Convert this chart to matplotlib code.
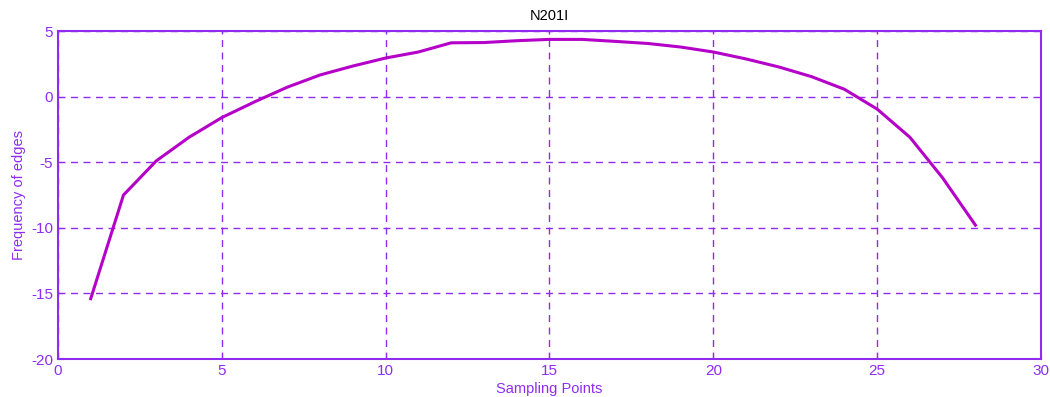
import numpy as np
import matplotlib
matplotlib.use("Agg")
import matplotlib.pyplot as plt

plt.rcParams['font.family'] = ['Liberation Sans', 'DejaVu Sans']
plt.rcParams['axes.unicode_minus'] = False

# values
sampling_points = np.arange(1, 29)
edge_freq = [-15.4, -7.5, -4.9, -3.1, -1.6, -0.4, 0.72, 1.65, 2.33, 2.94,
             3.4, 4.1, 4.12, 4.26, 4.36, 4.36, 4.21, 4.05, 3.78, 3.4,
             2.87, 2.26, 1.52, 0.56, -0.95, -3.1, -6.2, -9.8]

line_color = '#b400c8'
axis_color = '#8f2cf0'

fig = plt.figure(figsize=(10.5, 3.97), dpi=100)
ax = fig.add_axes([0.0552, 0.0957, 0.9362, 0.8262])

ax.plot(sampling_points, edge_freq, color=line_color, linewidth=2.2)

ax.set_xlim(0, 30)
ax.set_ylim(-20, 5)
ax.set_xticks(np.arange(0, 31, 5))
ax.set_yticks(np.arange(-20, 6, 5))

ax.grid(True, color=axis_color, linestyle=(0, (5, 4)), linewidth=1.0)
for side in ['top', 'bottom', 'left', 'right']:
    ax.spines[side].set_color(axis_color)
    ax.spines[side].set_linewidth(1.5)
ax.tick_params(colors=axis_color, labelsize=11, direction='in', length=4)

ax.set_title('N201I', fontsize=10.5, color='black', pad=8)
ax.set_xlabel('Sampling Points', color=axis_color, fontsize=10.5, labelpad=3)
ax.set_ylabel('Frequency of edges', color=axis_color, fontsize=10.5, labelpad=4)

fig.savefig('out.png', dpi=100)
